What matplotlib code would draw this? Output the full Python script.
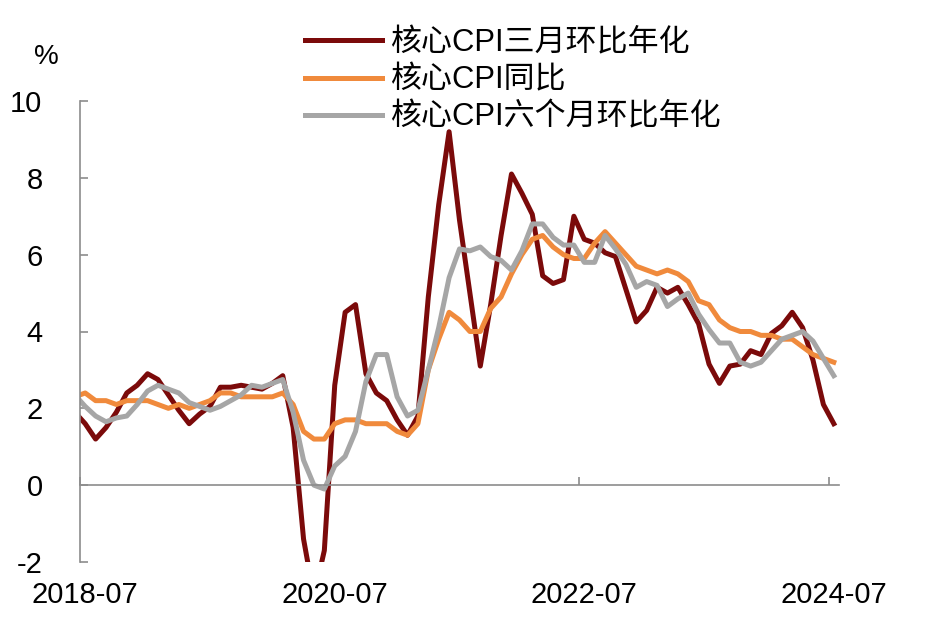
import matplotlib
matplotlib.use('Agg')
import matplotlib.pyplot as plt
import numpy as np
import pandas as pd

plt.rcParams['font.family'] = ['Liberation Sans', 'Noto Sans CJK SC', 'DejaVu Sans']
plt.rcParams['axes.unicode_minus'] = False

# ── Data (monthly, 2018-06 … 2024-07; 2018-06 sits just left of the axis) ──
months = pd.period_range('2018-06', '2024-07', freq='M').strftime('%Y-%m').tolist()

cpi_3m = [1.9, 1.6, 1.2, 1.5, 1.9, 2.4, 2.6, 2.9, 2.75, 2.35, 1.95, 1.6, 1.85,
          2.05, 2.55, 2.55, 2.6, 2.55, 2.5, 2.65, 2.85, 1.5, -1.4, -2.9, -1.7,
          2.6, 4.5, 4.7, 2.9, 2.4, 2.2, 1.7, 1.3, 1.8, 4.9, 7.3, 9.2,
          6.9, 5.0, 3.1, 4.7, 6.5, 8.1, 7.6, 7.05, 5.45, 5.25, 5.35, 7.0,
          6.4, 6.3, 6.05, 5.95, 5.1, 4.25, 4.55, 5.15, 5.0, 5.15, 4.7, 4.2,
          3.15, 2.65, 3.1, 3.15, 3.5, 3.4, 3.95, 4.15, 4.5, 4.1, 3.25, 2.1, 1.6]

cpi_yoy = [2.3, 2.4, 2.2, 2.2, 2.1, 2.2, 2.2,
           2.2, 2.1, 2.0, 2.1, 2.0, 2.1, 2.2, 2.4, 2.4, 2.3, 2.3, 2.3,
           2.3, 2.4, 2.1, 1.4, 1.2, 1.2, 1.6, 1.7, 1.7, 1.6, 1.6, 1.6,
           1.4, 1.3, 1.6, 3.0, 3.8, 4.5, 4.3, 4.0, 4.0, 4.6, 4.9, 5.5,
           6.0, 6.4, 6.5, 6.2, 6.0, 5.9, 5.9, 6.3, 6.6, 6.3, 6.0, 5.7,
           5.6, 5.5, 5.6, 5.5, 5.3, 4.8, 4.7, 4.3, 4.1, 4.0, 4.0, 3.9,
           3.9, 3.8, 3.8, 3.6, 3.4, 3.3, 3.2]

cpi_6m = [2.35, 2.05, 1.8, 1.65, 1.75, 1.8, 2.1, 2.45, 2.6, 2.5, 2.4, 2.15, 2.05,
          1.95, 2.05, 2.2, 2.35, 2.6, 2.55, 2.65, 2.75, 1.9, 0.65, 0.0, -0.1,
          0.5, 0.75, 1.4, 2.7, 3.4, 3.4, 2.3, 1.8, 1.95, 3.0, 4.1, 5.4,
          6.15, 6.1, 6.2, 5.95, 5.85, 5.6, 6.1, 6.8, 6.8, 6.45, 6.25, 6.25,
          5.8, 5.8, 6.5, 6.15, 5.75, 5.15, 5.3, 5.2, 4.65, 4.85, 5.0, 4.45,
          4.05, 3.7, 3.7, 3.2, 3.1, 3.2, 3.5, 3.8, 3.9, 4.0, 3.75, 3.3, 2.85]

tick_months = ['2018-07', '2020-07', '2022-07', '2024-07']

COLOR_3M  = '#7B0A0A'
COLOR_YOY = '#F08A3C'
COLOR_6M  = '#A6A6A6'
AXIS_GRAY = '#8C8C8C'

x = np.arange(len(months)) - 1          # 2018-07 -> 0
tick_pos = [months.index(m) - 1 for m in tick_months]

# ── Figure ───────────────────────────────────────────────────────────────────
fig = plt.figure(figsize=(9.42, 6.4), dpi=100)
ax = fig.add_axes([80 / 942, 78 / 640, 759 / 942, 461 / 640])

ax.plot(x, cpi_3m,  color=COLOR_3M,  lw=3.6, label='核心CPI三月环比年化')
ax.plot(x, cpi_yoy, color=COLOR_YOY, lw=3.6, label='核心CPI同比')
ax.plot(x, cpi_6m,  color=COLOR_6M,  lw=3.6, label='核心CPI六个月环比年化')

ax.set_xlim(-0.5, 72.5)
ax.set_ylim(-2, 10)
ax.set_yticks(range(-2, 11, 2))

ax.spines[['top', 'right']].set_visible(False)
for s in ('left', 'bottom'):
    ax.spines[s].set_color(AXIS_GRAY)
    ax.spines[s].set_linewidth(1.2)
ax.spines['bottom'].set_position(('data', 0))

# tick marks on the zero line sit on month boundaries
ax.set_xticks([p - 0.5 for p in tick_pos])
ax.tick_params(axis='x', direction='in', length=6, width=1.2, color=AXIS_GRAY,
               labelbottom=False)
ax.tick_params(axis='y', direction='in', length=6, width=1.2, color=AXIS_GRAY,
               pad=27, labelsize=21)

# date labels at the bottom of the plot
sec = ax.secondary_xaxis('bottom')
sec.set_xticks(tick_pos, tick_months)
sec.spines['bottom'].set_visible(False)
sec.tick_params(length=0, pad=14, labelsize=21)

fig.text(46 / 942, 1 - 57 / 640, '%', ha='center', va='center', fontsize=20)

ax.legend(loc='upper left', bbox_to_anchor=(305 / 942, 1 - 28 / 640),
          bbox_transform=fig.transFigure, frameon=False, fontsize=22.3,
          handlelength=2.5, handletextpad=0.25, labelspacing=0.24,
          borderpad=0, borderaxespad=0)

fig.savefig('out.png', dpi=100)
plt.close()
